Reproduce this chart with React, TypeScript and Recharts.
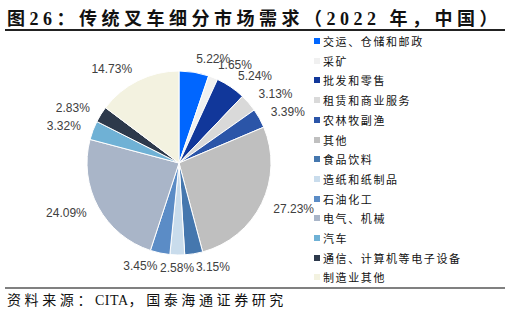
import { PieChart, Pie, Cell } from 'recharts';

const categories = [
  '交运、仓储和邮政',
  '采矿',
  '批发和零售',
  '租赁和商业服务',
  '农林牧副渔',
  '其他',
  '食品饮料',
  '造纸和纸制品',
  '石油化工',
  '电气、机械',
  '汽车',
  '通信、计算机等电子设备',
  '制造业其他',
];
const shares = [5.22, 1.65, 5.24, 3.13, 3.39, 27.23, 3.15, 2.58, 3.45, 24.09, 3.32, 2.83, 14.73];
const colors = [
  '#0066ff',
  '#f0f0f0',
  '#11379a',
  '#d9d9d9',
  '#2b55a8',
  '#bfbfbf',
  '#4577ae',
  '#c9dcec',
  '#5b8cc6',
  '#a9b5c8',
  '#6fb1d5',
  '#2d394b',
  '#f3f2e0',
];

const data = categories.map((name, i) => ({ name, value: shares[i], color: colors[i] }));

const RAD = Math.PI / 180;

// labels sit just outside the rim, anchored on the side they fall on
function renderLabel(props: any) {
  const { cx, cy, midAngle, outerRadius, value } = props;
  const r = outerRadius + 13;
  const cos = Math.cos(-midAngle * RAD);
  const sin = Math.sin(-midAngle * RAD);
  const anchor = Math.abs(cos) < 0.1 ? 'middle' : cos > 0 ? 'start' : 'end';
  return (
    <text
      x={cx + r * cos}
      y={cy + r * sin}
      textAnchor={anchor}
      dominantBaseline="central"
      fill="#404040"
      fontSize={12}
      fontFamily="'Liberation Sans', Arial, sans-serif"
    >
      {value.toFixed(2)}%
    </text>
  );
}

export default function App() {
  return (
    <div
      style={{
        position: 'absolute',
        left: 0,
        top: 0,
        width: 510,
        height: 314,
        background: '#fff',
        overflow: 'hidden',
      }}
    >
      <div
        style={{
          position: 'absolute',
          left: 7,
          top: 4,
          fontSize: 18,
          fontWeight: 700,
          letterSpacing: 4.5,
          whiteSpace: 'nowrap',
          color: '#111',
          fontFamily: "'Liberation Serif', 'Noto Sans CJK SC', serif",
        }}
      >
        图26：传统叉车细分市场需求（2022 年，中国）
      </div>
      <div style={{ position: 'absolute', left: 5, top: 29, width: 500, height: 1.5, background: '#222' }} />

      <div style={{ position: 'absolute', left: 0, top: 0 }}>
        <PieChart width={320} height={290}>
          <Pie
            data={data}
            dataKey="value"
            cx={174}
            cy={158}
            outerRadius={92}
            startAngle={90}
            endAngle={-270}
            stroke="#fff"
            strokeWidth={1}
            labelLine={false}
            label={renderLabel}
            isAnimationActive={false}
          >
            {data.map((entry, index) => (
              <Cell key={`cell-${index}`} fill={entry.color} />
            ))}
          </Pie>
        </PieChart>
      </div>

      {data.map((d, i) => (
        <div
          key={d.name}
          style={{
            position: 'absolute',
            left: 314,
            top: 41 + i * 19.7 - 8,
            height: 16,
            display: 'flex',
            alignItems: 'center',
            whiteSpace: 'nowrap',
            fontSize: 11,
            letterSpacing: 1.6,
            color: '#111',
            fontFamily: "'Noto Sans CJK SC', sans-serif",
          }}
        >
          <span style={{ width: 6, height: 6, background: d.color, marginRight: 3, display: 'inline-block' }} />
          {d.name}
        </div>
      ))}

      <div style={{ position: 'absolute', left: 5, top: 286.5, width: 500, height: 2, background: '#808080' }} />
      <div
        style={{
          position: 'absolute',
          left: 7,
          top: 289,
          fontSize: 14,
          letterSpacing: 3.6,
          whiteSpace: 'nowrap',
          color: '#111',
          fontFamily: "'Liberation Serif', 'Noto Sans CJK SC', serif",
        }}
      >
        资料来源：<span style={{ letterSpacing: 0.5 }}>CITA</span>，国泰海通证券研究
      </div>
    </div>
  );
}
